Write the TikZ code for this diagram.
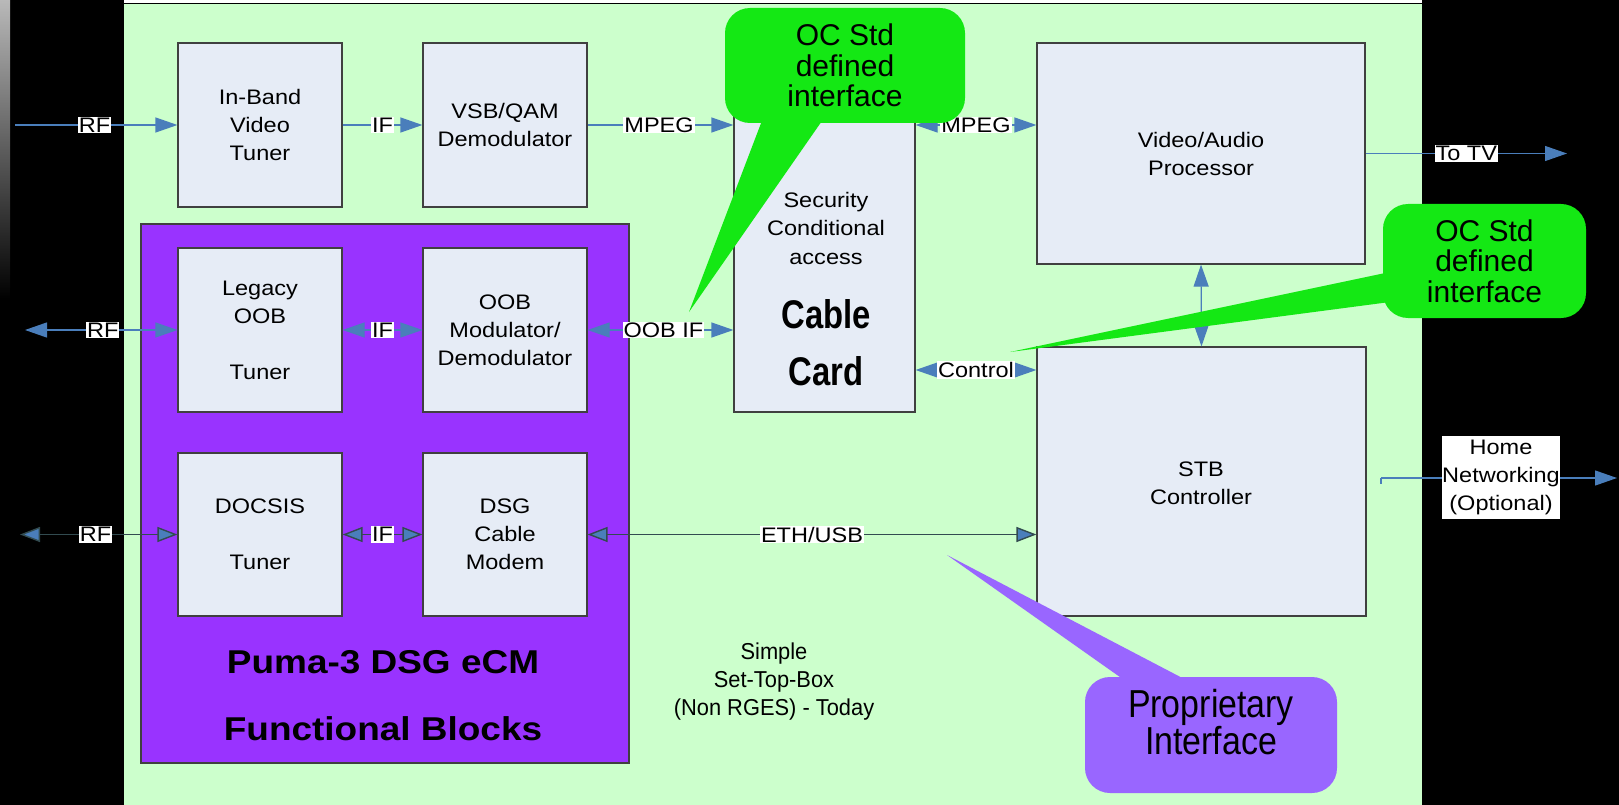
\documentclass[tikz,border=0pt]{standalone}
\usepackage{fontspec}
\setmainfont{Liberation Sans}[FakeStretch=1.12]
\newfontfamily\plainfont{Liberation Sans}
\newfontfamily\narrowfont{Liberation Sans}[FakeStretch=0.87]
\newfontfamily\cardfont{Liberation Sans}[FakeStretch=0.82]
\newfontfamily\simplefont{Liberation Sans}[FakeStretch=0.95]
\usetikzlibrary{arrows.meta}
\definecolor{bggreen}{RGB}{204,255,204}
\definecolor{boxfill}{RGB}{230,236,246}
\definecolor{boxline}{RGB}{64,64,64}
\definecolor{pumapurple}{RGB}{153,51,255}
\definecolor{arblue}{RGB}{74,126,187}
\definecolor{ardark}{RGB}{50,75,80}
\definecolor{callgreen}{RGB}{20,232,20}
\definecolor{callpurple}{RGB}{153,102,255}
\newcommand\bxf{\fontsize{21}{28}\selectfont}
\tikzset{
  blk/.style={draw=boxline, line width=1.2pt, fill=boxfill, align=center, font=\bxf, inner sep=0pt},
  lab/.style={fill=white, inner sep=1pt, font=\fontsize{21}{24}\selectfont},
  flow/.style={draw=arblue, line width=1.2pt, -{Triangle[length=22pt,width=15pt]}},
  flowtwo/.style={draw=arblue, line width=1.2pt, {Triangle[length=22pt,width=15pt]}-{Triangle[length=22pt,width=15pt]}},
  dflow/.style={draw=ardark, line width=1.4pt, {Triangle[length=20pt,width=15pt,fill=arblue]}-{Triangle[length=20pt,width=15pt,fill=arblue]}},
  callg/.style={fill=callgreen, rounded corners=25pt, inner sep=0pt, align=center, font=\plainfont\fontsize{30}{30.5}\selectfont},
  callp/.style={fill=callpurple, rounded corners=25pt, inner sep=0pt},
}
\begin{document}
\begin{tikzpicture}[x=1pt,y=-1pt]
\useasboundingbox (0,0) rectangle (1619,805);
% background
\fill[black] (0,0) rectangle (1619,805);
\shade[top color=gray!55!white, bottom color=black] (0,0) rectangle (10,300);
\fill[white] (124,0) rectangle (1422,3);
\fill[bggreen] (124,4) rectangle (1422,805);
\draw[black, line width=1pt] (124,4) -- (1422,4);
% Puma block
\node[draw=boxline, line width=1.2pt, fill=pumapurple, minimum width=488pt, minimum height=539pt, inner sep=0pt] (puma) at (385,493.5) {};
% boxes
\node[blk, minimum width=164pt, minimum height=164pt] (ibt) at (260,125) {In-Band\\Video\\Tuner};
\node[blk, minimum width=164pt, minimum height=164pt] (vsb) at (505,125) {VSB/QAM\\Demodulator};
\node[blk, minimum width=181pt, minimum height=312pt] (cc) at (824.5,256) {};
\node[align=center, font=\fontsize{21}{28.5}\selectfont] (sec) at (826,228) {Security\\Conditional\\access};
\node[align=center, font=\cardfont\bfseries\fontsize{40}{57}\selectfont] (ccname) at (826,343) {Cable\\Card};
\node[blk, minimum width=328pt, minimum height=221pt] (vap) at (1201,153.5) {Video/Audio\\Processor};
\node[blk, minimum width=329pt, minimum height=269pt] (stb) at (1201.5,481.5) {};
\node[align=center, font=\bxf] (stbt) at (1201,483) {STB\\Controller};
\node[blk, minimum width=164pt, minimum height=164pt] (lot) at (260,330) {Legacy\\OOB\\\strut\\Tuner};
\node[blk, minimum width=164pt, minimum height=164pt] (oob) at (505,330) {OOB\\Modulator/\\Demodulator};
\node[blk, minimum width=164pt, minimum height=163pt] (doc) at (260,534.5) {DOCSIS\\\strut\\Tuner};
\node[blk, minimum width=164pt, minimum height=163pt] (dsg) at (505,534.5) {DSG\\Cable\\Modem};
\node[align=center, font=\bfseries\fontsize{33}{67}\selectfont] (pumat) at (383,696) {Puma-3 DSG eCM\\Functional Blocks};
\node[align=center, font=\simplefont\fontsize{23}{28}\selectfont] (simple) at (774,682) {Simple\\Set-Top-Box\\(Non RGES) - Today};
% free ends
\coordinate (rf1) at (15,125);
\coordinate (rf2) at (25,330);
\coordinate (rf3) at (20,534.5);
\coordinate (tv) at (1567,153.5);
\coordinate (cy) at (0,370);
\coordinate (hn) at (1381,478);
\coordinate (hnend) at (1617,478);
% row 1
\draw[flow] (rf1) -- node[lab, pos=0.49] {RF} (ibt.west);
\draw[flow] (ibt.east) -- node[lab, pos=0.5] {IF} (vsb.west);
\draw[flow] (vsb.east) -- node[lab, pos=0.49] {MPEG} (vsb.east -| cc.west);
\draw[flowtwo] (cc.east |- vsb.east) -- node[lab, pos=0.5] {MPEG} (vap.west |- vsb.east);
\draw[flow] (vap.east) -- node[lab, pos=0.5] {To TV} (tv);
% row 2
\draw[flowtwo] (rf2) -- node[lab, pos=0.51] {RF} (lot.west);
\draw[flowtwo] (lot.east) -- node[lab, pos=0.5] {IF} (oob.west);
\draw[flowtwo] (oob.east) -- node[lab, pos=0.52] {OOB IF} (oob.east -| cc.west);
\draw[flowtwo] (cc.east |- cy) -- node[lab, pos=0.5] {Control} (stb.west |- cy);
\draw[flowtwo] (vap.south) -- (stb.north);
% row 3
\draw[dflow] (rf3) -- node[lab, pos=0.48] {RF} (doc.west);
\draw[dflow] (doc.east) -- node[lab, pos=0.5] {IF} (dsg.west);
\draw[dflow] (dsg.east) -- node[lab, pos=0.5] {ETH/USB} (dsg.east -| stb.west);
% home networking
\draw[flow] (hn) -- (hnend);
\draw[arblue, line width=1.2pt] (hn) -- ++(0,6);
\node[fill=white, minimum width=114pt, minimum height=83pt, inner sep=0pt, align=center, font=\fontsize{21}{28}\selectfont] (home) at (1501,477.5) {Home\\Networking\\(Optional)};
% callouts
\node[callg, minimum width=240pt, minimum height=115pt] (oc1) at (845,65.5) {OC Std\\defined\\interface};
\fill[callgreen] (763,118) -- (824,118) -- (689,312) -- cycle;
\node[callg, minimum width=203pt, minimum height=114pt] (oc2) at (1484.5,261) {OC Std\\defined\\interface};
\fill[callgreen] (1390,272) -- (1390,302) -- (1010,352) -- cycle;
\node[callp, minimum width=252pt, minimum height=116pt] (prop) at (1211,735) {};
\fill[callpurple] (1127,682) -- (1190,682) -- (947,555) -- cycle;
\node[align=center, font=\narrowfont\fontsize{39}{35}\selectfont] (propt) at (1211,722) {Proprietary\\Interface};
\end{tikzpicture}
\end{document}
